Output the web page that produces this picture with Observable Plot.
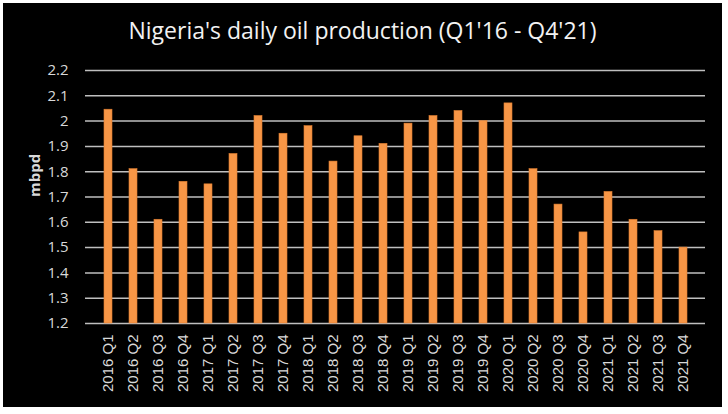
<!DOCTYPE html>
<html>
<head>
<meta charset="utf-8">
<script src="https://cdn.jsdelivr.net/npm/d3@7"></script>
<script src="https://cdn.jsdelivr.net/npm/@observablehq/plot@0.6"></script>
<style>
  html, body { margin: 0; padding: 0; background: #fff; }
  #card { position: absolute; left: 3px; top: 3px; width: 719px; height: 404px; background: #000; overflow: hidden; }
  #title { height: 52px; line-height: 52px; text-align: center; color: #f2f2f2;
           font-family: "Open Sans", sans-serif; font-size: 23px; letter-spacing: 0px;
           position: relative; top: 1px; }
  #chart svg { display: block; }
</style>
</head>
<body>
<div id="card">
  <div id="title">Nigeria's daily oil production (Q1'16 - Q4'21)</div>
  <div id="chart"></div>
</div>
<script>
const quarters = [
  "2016 Q1","2016 Q2","2016 Q3","2016 Q4",
  "2017 Q1","2017 Q2","2017 Q3","2017 Q4",
  "2018 Q1","2018 Q2","2018 Q3","2018 Q4",
  "2019 Q1","2019 Q2","2019 Q3","2019 Q4",
  "2020 Q1","2020 Q2","2020 Q3","2020 Q4",
  "2021 Q1","2021 Q2","2021 Q3","2021 Q4"
];
const production = [
  2.045, 1.81, 1.61, 1.76,
  1.75, 1.87, 2.02, 1.95,
  1.98, 1.84, 1.94, 1.91,
  1.99, 2.02, 2.04, 2.00,
  2.07, 1.81, 1.67, 1.56,
  1.72, 1.61, 1.565, 1.50
];
const yTicks = [1.2, 1.3, 1.4, 1.5, 1.6, 1.7, 1.8, 1.9, 2.0, 2.1, 2.2];
const yLabel = "mbpd";

const data = quarters.map((q, i) => ({quarter: q, value: production[i]}));
const yMin = yTicks[0], yMax = yTicks[yTicks.length - 1];

const chart = Plot.plot({
  width: 719,
  height: 352,
  marginTop: 15,
  marginBottom: 84,
  marginLeft: 82,
  marginRight: 17,
  style: { background: "#000", fontFamily: "'Liberation Sans', Arial, sans-serif", color: "#d9d9d9" },
  x: { type: "band", domain: quarters, paddingInner: 0.7, paddingOuter: 0.35 },
  y: { domain: [yMin, yMax] },
  marks: [
    Plot.ruleY(yTicks, { stroke: "#bfbfbf", strokeWidth: 1.5 }),
    Plot.barY(data, { x: "quarter", y1: () => yMin, y2: "value", fill: "#f79646", stroke: "#e07e30", strokeWidth: 0.6 }),
    Plot.axisX({ tickRotate: -90, tickSize: 0, tickPadding: 11, fontSize: 15, fill: "#d9d9d9", label: null }),
    Plot.axisY({ ticks: yTicks, tickSize: 0, tickPadding: 17, fontSize: 15, fill: "#d9d9d9",
                 fontFamily: "'Open Sans', sans-serif",
                 tickFormat: d => String(+d.toFixed(1)), label: null }),
    Plot.text([yLabel], { frameAnchor: "left", text: d => d, rotate: -90, dx: -50,
                          fontSize: 15, fontWeight: "bold", fill: "#d9d9d9", fontFamily: "'Open Sans', sans-serif" })
  ]
});
document.getElementById("chart").appendChild(chart);
</script>
</body>
</html>
